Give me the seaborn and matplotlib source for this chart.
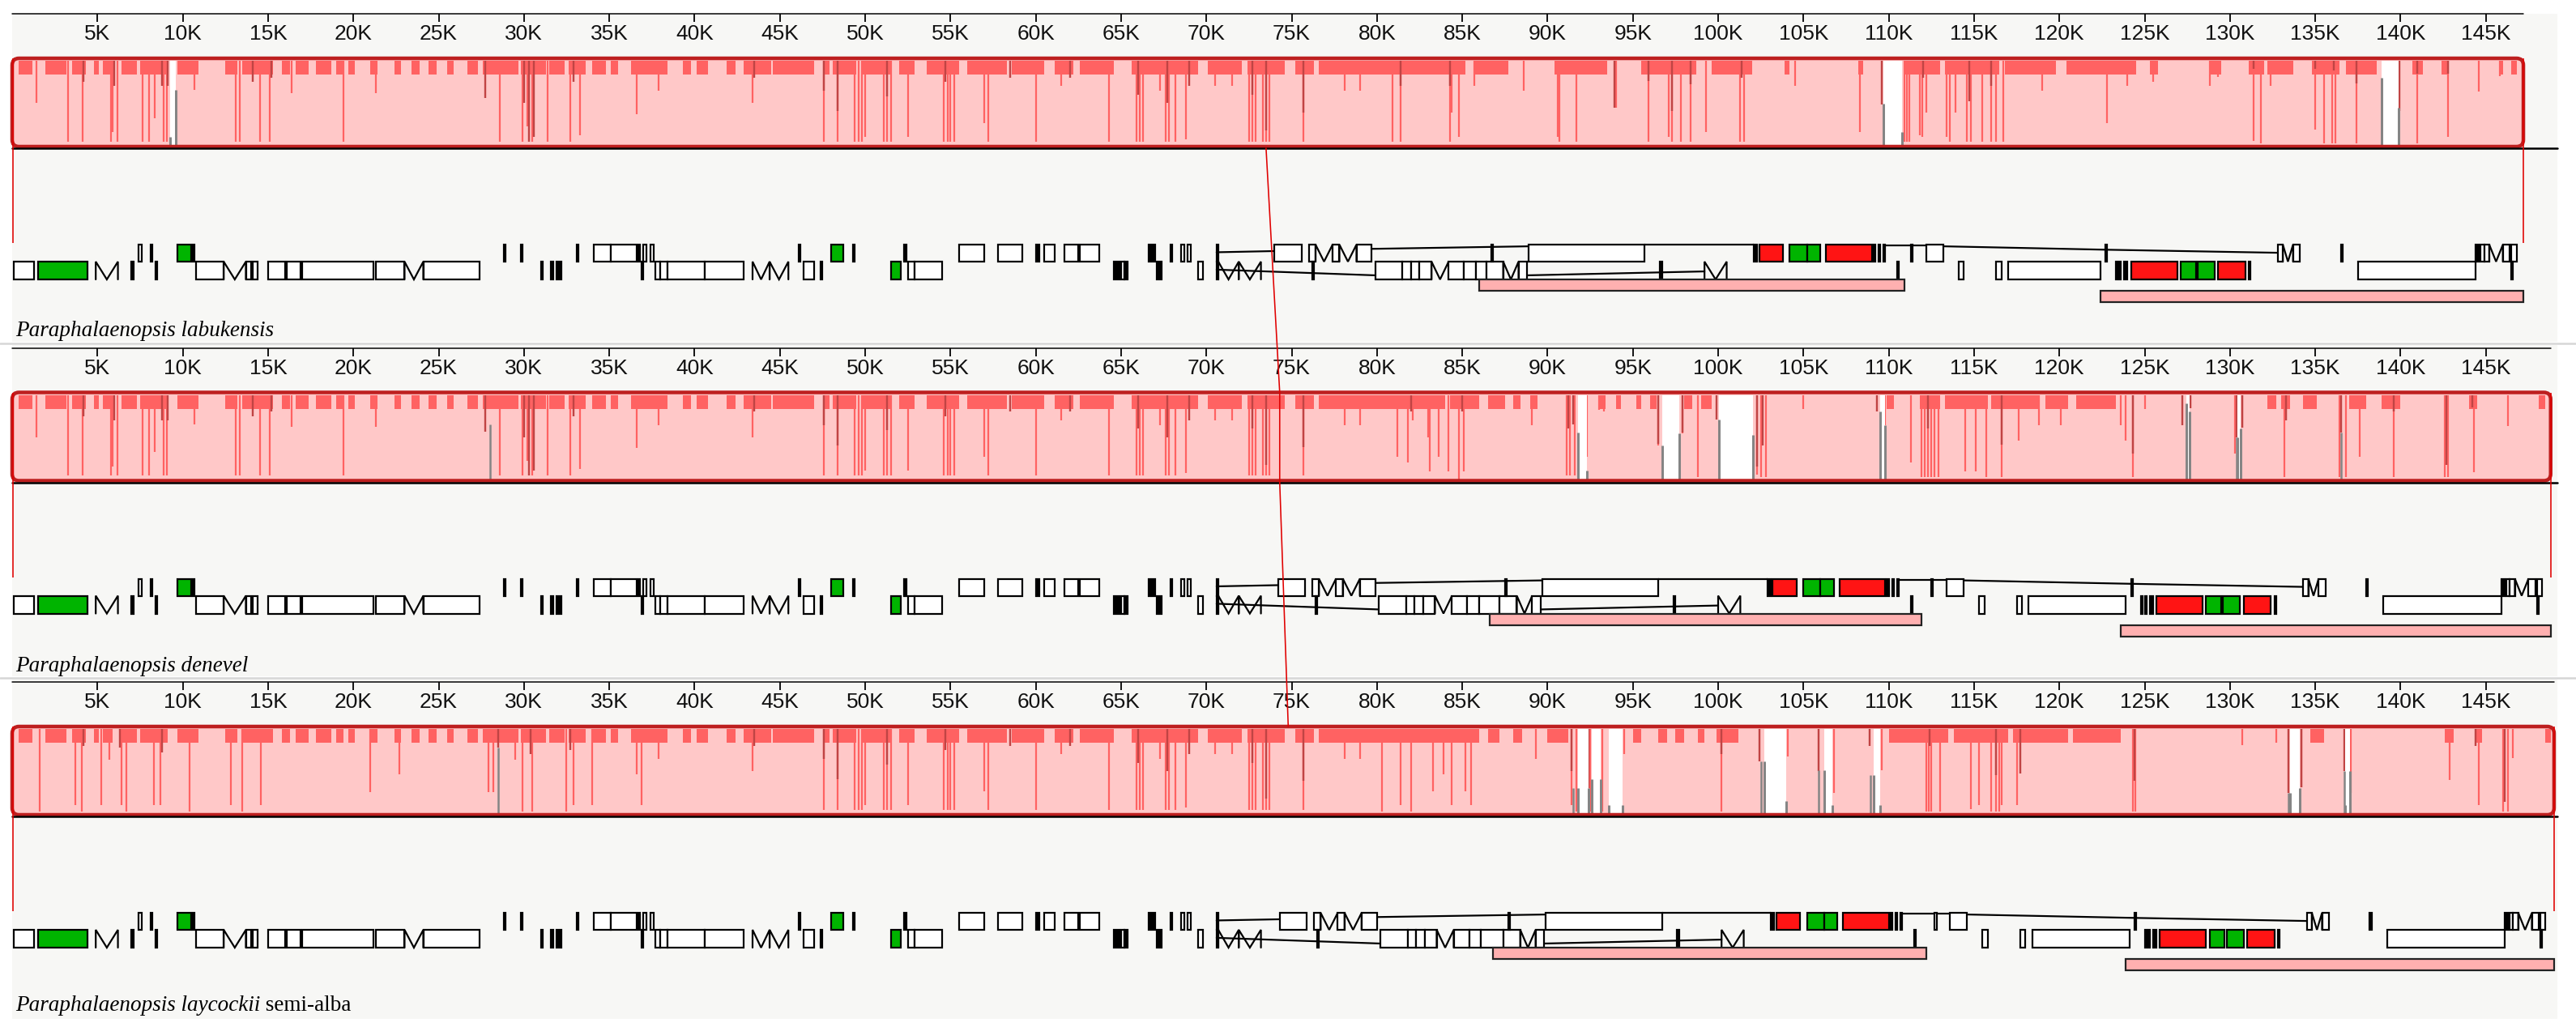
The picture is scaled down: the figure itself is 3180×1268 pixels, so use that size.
import numpy as np
import matplotlib
matplotlib.use("Agg")
import matplotlib.pyplot as plt
from matplotlib.patches import Rectangle, FancyBboxPatch
from matplotlib import font_manager
import seaborn as sns

# ======================= DATA (positions in kb) =======================
GENOME_NAMES = ["Paraphalaenopsis labukensis", "Paraphalaenopsis denevel",
                "Paraphalaenopsis laycockii"]
NAME_SUFFIX = ["", "", " semi-alba"]
GENOME_LENGTH_K = [147.2, 148.8, 149.0]
TICK_STEP_K = 5
LCB_ANCHOR_K = [73.5, 74.3, 74.8]

# similarity-profile dips: (position kb, depth as fraction of block height)
LSC_A_DIPS = [(1.42, .5), (3.28, .96), (4.13, .96), (5.78, .96), (5.9, .85), (6.19, .96),
              (7.65, .96), (8.01, .96), (8.37, .68), (8.86, .96), (9.05, .96), (10.67, .35),
              (13.1, .96), (13.34, .96), (14.55, .96), (15.08, .96), (16.4, .38), (19.4, .96),
              (21.3, .38), (28.6, .96), (29.9, .96), (30.2, .78), (30.5, .96), (31.4, .96),
              (32.7, .96), (33.3, .88), (36.6, .63)]
LSC_A_DARK = [(4.2, .25), (6.0, .3), (8.8, .3), (9.1, .3), (14.1, .25), (15.2, .2), (27.75, .44),
              (30.0, .5), (30.3, .96), (30.6, .9), (32.9, .25)]
LSC_A_BAND = [(0.4, 1.2), (1.95, 3.2), (3.5, 4.3), (4.8, 5.1), (5.3, 5.9), (6.4, 7.3), (7.5, 9.1),
              (9.7, 10.9), (12.5, 13.2), (13.5, 15.3), (15.8, 16.3), (16.6, 17.4), (17.8, 18.7),
              (19.0, 19.4), (19.7, 20.1), (21.0, 21.4), (22.4, 22.8), (23.4, 23.9), (24.4, 24.9),
              (25.5, 25.9), (26.7, 27.3), (27.6, 29.7), (29.8, 31.3), (31.5, 32.4), (32.6, 33.6),
              (34.0, 34.8), (35.1, 35.5), (36.6, 37.3)]
LSC_B_DIPS = [(37.9, .36), (43.4, .5), (47.6, .96), (48.4, .96), (49.4, .96), (49.6, .96),
              (49.8, .96), (50.0, .9), (51.1, .96), (51.3, .96), (51.5, .96), (52.5, .9),
              (54.6, .96), (54.85, .96), (55.0, .96), (55.2, .96), (57.0, .74), (57.2, .96),
              (60.0, .96), (61.5, .3), (64.3, .96), (65.9, .96), (66.1, .96), (66.3, .96),
              (67.3, .36), (67.6, .96), (67.8, .96), (68.2, .96), (68.8, .93), (70.5, .3),
              (71.5, .3), (72.5, .96), (72.7, .96), (72.9, .96), (73.3, .96), (73.5, .96),
              (73.7, .96), (75.7, .96), (78.1, .36), (79.0, .36)]
LSC_B_DARK = [(43.5, .2), (47.6, .36), (48.4, .6), (51.3, .42), (54.7, .25), (58.5, .2), (62.0, .2),
              (66.0, .4), (67.7, .5), (69.0, .3), (72.7, .4), (73.5, .83), (75.7, .62)]
LSC_B_BAND = [(36.3, 36.9), (37.3, 38.4), (39.3, 39.8), (40.1, 40.8), (41.9, 42.4), (42.9, 44.5),
              (44.6, 47.0), (47.6, 47.9), (48.1, 49.5), (49.8, 51.5), (52.0, 52.9), (53.6, 55.5),
              (56.0, 58.3), (58.6, 60.5), (61.1, 62.2), (62.6, 64.6), (65.6, 69.5), (70.1, 72.1),
              (72.4, 74.6), (75.2, 76.3), (76.6, 80.0)]

P1_IR_DIPS = [(80.9, .96), (81.4, .96), (84.3, .96), (84.4, .62), (84.8, .9), (85.7, .3), (88.6, .36),
              (90.6, .9), (90.7, .96), (91.7, .96), (94.0, .56), (95.9, .96), (97.1, .9), (97.3, .96),
              (97.8, .96), (98.4, .96), (99.3, .85), (101.3, .96), (101.5, .96), (104.5, .3),
              (108.3, .85), (110.9, .96), (111.05, .96), (111.2, .96), (111.8, .88), (111.95, .9),
              (112.2, .62), (113.4, .9), (113.6, .96), (113.9, .62), (114.6, .96), (114.8, .96),
              (115.5, .96), (116.0, .96), (116.3, .96), (116.7, .96), (119.0, .36), (122.8, .74),
              (124.0, .3), (125.5, .25), (128.8, .3), (129.3, .19), (131.4, .95), (131.8, .98),
              (132.4, .3), (135.0, .82), (135.5, .98), (136.0, .98), (136.2, .98), (137.4, .98),
              (139.9, .42), (141.0, .98), (142.8, .9), (144.6, .37), (145.8, .18)]
P1_IR_DARK = [(81.4, .3), (84.3, .3), (93.9, .56), (95.9, .24), (97.3, .6), (98.4, .28), (101.4, .2),
              (109.6, .52), (112.0, .2), (114.7, .48), (116.0, .3), (131.4, .1), (135.0, .1),
              (136.1, .12), (137.4, .27), (139.95, .6), (141.0, .15), (142.8, .15)]
P1_IR_BAND = [(80.0, 85.2), (85.7, 87.7), (90.4, 93.5), (95.5, 98.7), (99.6, 102.0), (103.9, 104.2),
              (108.2, 108.5), (110.9, 113.0), (113.3, 116.5), (116.8, 119.8), (120.4, 124.1),
              (124.0, 124.5), (125.3, 125.8), (128.8, 129.5), (131.1, 132.0), (132.2, 133.7),
              (134.8, 136.4), (136.8, 138.6), (140.7, 141.3), (142.4, 142.8), (145.8, 146.0),
              (146.5, 146.8)]
# unaligned gaps: (start, end, grey-edge start left, grey-edge start right)
P1_GAPS = [(9.25, 9.6, .9, .35), (109.7, 110.8, .51, .85), (138.9, 139.9, .2, .56)]
P1_GREY = []

P2_IR_DIPS = [(81.2, .74), (81.8, .8), (82.1, .3), (83.0, .5), (83.1, .91), (83.6, .74), (84.2, .91),
              (84.8, 1.0), (85.1, .91), (89.1, .36), (91.1, .96), (91.3, .96), (91.6, .96), (92.3, .74),
              (93.0, .18), (93.3, .2), (96.5, .6), (97.9, .46), (98.8, .98), (102.3, .95), (102.5, .98),
              (102.8, .98), (105.0, .17), (109.8, .36), (111.3, .8), (111.9, .98), (112.1, .98),
              (112.3, .98), (112.5, .98), (112.7, .98), (112.9, .98), (114.5, .91), (115.1, .91),
              (115.7, .98), (116.6, .98), (117.6, .54), (118.8, .36), (120.1, .36), (123.6, .36),
              (123.9, .54), (124.3, .98), (125.0, .17), (127.7, .16), (130.3, .7), (130.7, .39),
              (133.2, .98), (133.3, .3), (136.4, .98), (136.8, .98), (137.6, .74), (139.6, .98),
              (142.6, .98), (142.8, .98), (144.3, .92), (146.3, .37)]
P2_IR_DARK = [(82.0, .2), (85.0, .2), (91.2, .4), (91.5, .35), (96.5, .58), (97.9, .45), (99.9, .29),
              (102.3, .85), (102.6, .6), (109.3, .2), (112.3, .4), (116.6, .59), (124.3, .7),
              (127.2, .36), (127.7, .16), (130.4, .5), (130.7, .39), (133.3, .3), (136.5, .45),
              (139.6, .2), (142.7, .83), (144.2, .15)]
P2_IR_BAND = [(80.0, 84.0), (84.3, 86.0), (86.5, 87.5), (88.0, 88.4), (89.0, 89.4), (93.0, 93.4),
              (94.0, 94.3), (95.2, 95.5), (96.0, 96.4), (98.0, 98.5), (99.0, 99.6), (109.9, 110.3),
              (111.8, 113.0), (113.3, 115.8), (116.0, 118.8), (119.2, 120.5), (121.0, 123.3),
              (132.2, 132.7), (133.0, 133.5), (134.3, 135.1), (137.0, 138.0), (138.9, 140.0),
              (144.0, 144.5), (148.1, 148.5)]
P2_GAPS = [(91.8, 92.3, .45, .9), (96.7, 97.7, .6, .46), (100.05, 102.05, .29, .48),
           (109.5, 109.8, .2, .36), (127.45, 127.65, .1, .2), (130.45, 130.65, .5, .4)]
P2_GREY = [(28.0, .35), (130.4, .5), (136.5, .45)]

P3_LSC_A_DIPS = [(1.6, .98), (3.7, .9), (4.1, .98), (5.2, .9), (5.7, .37), (6.4, .9), (6.7, .98),
                 (8.3, .9), (8.7, .9), (10.4, .98), (12.8, .9), (13.5, .98), (14.6, .9), (21.0, .75),
                 (22.7, .54), (27.9, .75), (28.2, .75), (29.5, .37), (29.9, .98), (30.5, .98),
                 (32.5, .98), (32.9, .9), (34.0, .9), (36.6, .54), (36.9, .9)]
P3_LSC_A_DARK = [(4.2, .2), (6.3, .22), (8.8, .28), (28.5, .22), (30.4, .3), (32.7, .25)]
P3_IR_DIPS = [(80.3, .98), (81.4, .9), (82.0, .98), (83.3, .74), (83.9, .54), (84.4, .9), (85.2, .74),
              (85.5, .9), (89.3, .36), (91.4, .9), (91.7, .98), (92.5, .98), (93.2, .98), (94.5, .3),
              (100.2, .98), (104.1, .33), (106.8, .76), (109.6, .49), (112.2, .98), (112.35, .98),
              (112.5, .98), (113.0, .98), (114.8, .95), (115.3, .9), (116.0, .98), (116.3, .98),
              (116.5, .98), (116.6, .9), (117.5, .9), (124.3, .98), (124.45, .98), (130.7, .19),
              (132.7, .16), (134.2, .69), (137.1, .76), (142.9, .61), (144.6, .9), (146.0, .98),
              (146.3, .98), (146.6, .35)]
P3_IR_DARK = [(91.4, .5), (92.4, .7), (100.2, .3), (102.4, .38), (105.9, .5), (108.9, .2), (112.4, .2),
              (116.3, .55), (117.7, .53), (124.4, .62), (133.45, .76), (134.2, .69), (136.7, .5),
              (144.4, .2), (146.1, .87)]
P3_IR_BAND = [(80.0, 86.0), (86.5, 87.2), (88.0, 88.5), (90.0, 91.2), (95.0, 95.5), (96.5, 97.0),
              (97.5, 98.0), (98.8, 99.2), (99.9, 101.2), (110.0, 113.5), (113.8, 117.0),
              (117.3, 120.5), (120.8, 123.6), (134.7, 135.5), (142.6, 143.1), (144.4, 144.8),
              (148.5, 148.9)]
P3_GAPS = [(91.8, 92.4, .7, .7), (92.6, 93.1, .6, .6), (93.6, 94.4, .9, .9), (102.7, 104.0, .38, .86),
           (106.2, 106.7, .49, .9), (109.1, 109.5, .55, .9), (133.5, 134.1, .76, .7),
           (136.75, 137.05, .9, .5)]
P3_GREY = [(28.5, .22), (91.5, .7), (102.5, .38), (105.9, .49), (108.95, .55), (133.45, .76),
           (136.7, .5)]

PANEL_DIPS = [LSC_A_DIPS + LSC_B_DIPS + P1_IR_DIPS, LSC_A_DIPS + LSC_B_DIPS + P2_IR_DIPS,
              P3_LSC_A_DIPS + LSC_B_DIPS + P3_IR_DIPS]
PANEL_DARK = [LSC_A_DARK + LSC_B_DARK + P1_IR_DARK, LSC_A_DARK + LSC_B_DARK + P2_IR_DARK,
              P3_LSC_A_DARK + LSC_B_DARK + P3_IR_DARK]
PANEL_BAND = [LSC_A_BAND + LSC_B_BAND + P1_IR_BAND, LSC_A_BAND + LSC_B_BAND + P2_IR_BAND,
              LSC_A_BAND + LSC_B_BAND + P3_IR_BAND]
PANEL_GAPS = [P1_GAPS, P2_GAPS, P3_GAPS]
PANEL_GREY = [P1_GREY, P2_GREY, P3_GREY]

# gene features of the first genome: (start, end, strand U/L, type)
GENES = [
    (0.1, 1.3, "L", "w"), (1.5, 4.4, "L", "g"), (4.9, 6.2, "L", "m"), (7.0, 7.1, "L", "k"),
    (8.4, 8.5, "L", "k"), (7.4, 7.6, "U", "w"), (8.1, 8.2, "U", "k"), (9.7, 10.5, "U", "g"),
    (10.6, 10.7, "U", "k"), (10.8, 12.4, "L", "w"), (12.4, 13.7, "L", "m"), (13.7, 14.0, "L", "w"),
    (14.1, 14.4, "L", "w"), (15.0, 16.0, "L", "w"), (16.1, 16.9, "L", "w"), (17.0, 21.2, "L", "w"),
    (21.3, 23.0, "L", "w"), (23.0, 24.1, "L", "m"), (24.1, 27.4, "L", "w"), (28.8, 28.9, "U", "k"),
    (29.8, 29.9, "U", "k"), (31.0, 31.1, "L", "k"), (31.6, 31.7, "L", "k"), (31.9, 32.2, "L", "k"),
    (33.1, 33.2, "U", "k"), (34.1, 35.1, "U", "w"), (35.1, 36.6, "U", "w"), (36.7, 36.8, "U", "w"),
    (36.9, 37.0, "L", "k"), (37.0, 37.2, "U", "w"), (37.4, 37.6, "U", "w"), (37.7, 38.0, "L", "w"),
    (38.0, 38.4, "L", "w"), (38.4, 40.6, "L", "w"), (40.6, 42.9, "L", "w"), (43.4, 44.4, "L", "m"),
    (44.4, 45.5, "L", "m"), (46.1, 46.2, "U", "k"), (46.4, 47.0, "L", "w"), (47.4, 47.5, "L", "k"),
    (48.0, 48.7, "U", "g"), (49.3, 49.4, "U", "k"), (51.5, 52.1, "L", "g"), (52.3, 52.4, "U", "k"),
    (52.5, 52.9, "L", "w"), (52.9, 54.5, "L", "w"), (55.5, 57.0, "U", "w"), (57.8, 59.2, "U", "w"),
    (60.0, 60.2, "U", "k"), (60.5, 61.1, "U", "w"), (61.7, 62.5, "U", "w"), (62.6, 63.7, "U", "w"),
    (64.6, 64.9, "L", "k"), (65.0, 65.2, "L", "w"), (65.2, 65.4, "L", "k"), (66.6, 66.7, "U", "k"),
    (66.8, 67.0, "U", "k"), (67.1, 67.2, "L", "k"), (67.3, 67.4, "L", "k"), (67.9, 68.0, "U", "k"),
    (68.5, 68.7, "U", "w"), (68.9, 69.1, "U", "w"), (69.5, 69.8, "L", "w"), (70.6, 70.7, "U", "k"),
    (70.6, 70.7, "L", "k"), (70.7, 71.9, "L", "m"), (71.9, 73.2, "L", "m"), (74.0, 75.6, "U", "w"),
    (76.0, 76.4, "U", "w"), (76.4, 77.4, "U", "m"), (77.4, 77.8, "U", "w"), (77.8, 78.8, "U", "m"),
    (78.8, 79.7, "U", "w"), (76.2, 76.3, "L", "k"), (79.9, 81.5, "L", "w"), (81.5, 82.0, "L", "w"),
    (82.0, 82.5, "L", "w"), (82.5, 83.2, "L", "w"), (83.2, 84.2, "L", "m"), (84.2, 85.1, "L", "w"),
    (85.1, 85.8, "L", "w"), (85.8, 86.4, "L", "w"), (86.4, 87.4, "L", "w"), (87.4, 88.3, "L", "m"),
    (88.3, 88.8, "L", "w"), (86.7, 86.8, "U", "k"), (88.9, 95.7, "U", "w"), (96.6, 96.7, "L", "k"),
    (99.2, 100.5, "L", "m"), (102.1, 102.3, "U", "k"), (102.4, 103.8, "U", "r"),
    (104.2, 105.2, "U", "g"), (105.2, 106.0, "U", "g"), (106.3, 109.0, "U", "r"),
    (109.1, 109.2, "U", "k"), (109.4, 109.5, "U", "k"), (109.7, 109.8, "U", "k"),
    (110.5, 110.6, "L", "k"), (111.3, 111.4, "U", "w"), (112.2, 113.2, "U", "w"),
    (114.1, 114.4, "L", "w"), (116.3, 116.6, "L", "w"), (117.0, 122.4, "L", "w"),
    (122.7, 122.8, "U", "k"), (123.3, 123.4, "L", "k"), (123.5, 123.6, "L", "k"),
    (123.8, 124.0, "L", "k"), (124.2, 126.9, "L", "r"), (127.1, 128.0, "L", "g"),
    (128.1, 129.1, "L", "g"), (129.3, 130.9, "L", "r"), (131.1, 131.2, "L", "k"),
    (132.8, 133.1, "U", "w"), (133.1, 133.7, "U", "m"), (133.7, 134.1, "U", "w"),
    (136.5, 136.6, "U", "k"), (137.5, 144.4, "L", "w"), (144.4, 144.6, "U", "k"),
    (144.7, 144.9, "U", "w"), (144.9, 145.2, "U", "w"), (145.2, 146.0, "U", "m"),
    (146.0, 146.4, "U", "w"), (146.5, 146.8, "U", "w"), (146.5, 146.6, "L", "k"),
]
# connecting lines between exons: (strand, x0, level0, x1, level1) level = fraction of row height
CONNECTORS = [("U", 70.6, .45, 74.0, .38), ("U", 79.7, .25, 88.9, .1), ("U", 95.7, .02, 102.1, .02),
              ("U", 109.8, .05, 112.2, .05), ("U", 113.2, .1, 122.7, .3), ("U", 122.7, .3, 132.8, .48),
              ("L", 70.6, .45, 79.9, .77), ("L", 88.8, .77, 99.2, .55)]
# region starts (genome 1 coordinates) and per-genome shift of features in each region
SECTION_START_K = [0.0, 74.0, 86.0, 111.0, 122.4]
SECTION_SHIFT_K = [[0, 0, 0, 0, 0], [0, 0.2, 0.8, 1.2, 1.5], [0, 0.3, 1.0, 1.4, 1.7]]
# pink inverted-repeat bars per genome
PINK_BARS = [[(86.0, 110.9), (122.4, 147.2)], [(86.6, 111.9), (123.6, 148.8)],
             [(86.8, 112.2), (123.9, 149.0)]]

# ======================= LAYOUT / STYLE =======================
W_PX, H_PX = 3180, 1268
PX_PER_K = 21.06
X0_PX = 15
PANEL_STEP = 412.5
RULER_Y, TICK_LEN, TICKLABEL_Y = 17, 10, 42
BOX_TOP, BOX_BOT = 72, 181
IN_TOP, IN_BOT, BAND_BOT = 75, 179, 92
GLINE_Y = 183
EDGE_BOT = 300
ROWS = {"U": (302, 323), "L": (323, 345)}
PINK_ROWS = [(345, 359), (359, 373)]
LABEL_BASE = [415, 829, 1248]
BG_Y = [(17, 422), (426, 835), (839, 1258)]
BG_RIGHT_K = (3157 - X0_PX) / PX_PER_K

C_BG = "#f7f7f5"
C_PINK = "#ffc8c8"
C_RED = "#ff6262"
C_DARK = "#c04444"
C_BORDER = "#bd1f1f"
C_GREY = "#858585"
C_EDGE = "#e00000"
GENE_FC = {"w": "white", "g": "#00b400", "r": "#ff1414", "k": "black"}
C_PINKBAR = "#ffb0b0"


def px(v):
    return v * 72.0 / 100.0


sns.set_theme(style="white")
avail = {f.name for f in font_manager.fontManager.ttflist}
tick_font = "Liberation Sans Narrow" if "Liberation Sans Narrow" in avail else "Liberation Sans"
plt.rcParams["font.family"] = ["Liberation Sans", "DejaVu Sans"]

fig = plt.figure(figsize=(W_PX / 100, H_PX / 100), dpi=100, facecolor="white")
ax = fig.add_axes([0, 0, 1, 1])
ax.set_xlim(-X0_PX / PX_PER_K, (W_PX - X0_PX) / PX_PER_K)
ax.set_ylim(H_PX, 0)
ax.set_facecolor("white")
sns.despine(ax=ax, left=True, bottom=True)
ax.set_xticks([])
ax.set_yticks([])


def shift(k, x):
    i = np.searchsorted(SECTION_START_K, x, side="right") - 1
    return x + SECTION_SHIFT_K[k][max(i, 0)]


H_IN = IN_BOT - IN_TOP

for k in range(3):
    oy = k * PANEL_STEP
    L = GENOME_LENGTH_K[k]
    ax.add_patch(Rectangle((0, BG_Y[k][0]), BG_RIGHT_K, BG_Y[k][1] - BG_Y[k][0],
                           fc=C_BG, ec="none", zorder=0))
    if k > 0:
        ax.plot(ax.get_xlim(), [BG_Y[k][0] - 2] * 2, color="#d6d6d6", lw=px(2.5), zorder=0.5)

    # ruler
    ax.plot([0, L], [oy + RULER_Y] * 2, color="black", lw=px(1.5), zorder=2)
    ticks = np.arange(TICK_STEP_K, L, TICK_STEP_K)
    ax.vlines(ticks, oy + RULER_Y, oy + RULER_Y + TICK_LEN, color="black", lw=px(1.8), zorder=2)
    for t in ticks:
        ax.text(t, oy + TICKLABEL_Y, f"{int(round(t))}K", ha="center", va="center",
                fontsize=19, family=tick_font, color="#111111", zorder=3)

    # block fill
    ax.add_patch(FancyBboxPatch((0, oy + BOX_TOP), L, BOX_BOT - BOX_TOP,
                                boxstyle="round,pad=0,rounding_size=0.4",
                                mutation_aspect=PX_PER_K, fc=C_PINK, ec="none", zorder=1))
    for s, e in PANEL_BAND[k]:
        e2 = min(e, L - 0.2)
        if e2 > s:
            ax.add_patch(Rectangle((s, oy + IN_TOP), e2 - s, BAND_BOT - IN_TOP,
                                   fc=C_RED, ec="none", zorder=2))
    xs = np.array([d[0] for d in PANEL_DIPS[k]])
    ds = np.array([d[1] for d in PANEL_DIPS[k]])
    ax.vlines(xs, oy + IN_TOP, oy + IN_TOP + ds * H_IN, color=C_RED, lw=px(2.2), zorder=3)
    xs = np.array([d[0] for d in PANEL_DARK[k]])
    ds = np.array([d[1] for d in PANEL_DARK[k]])
    ax.vlines(xs, oy + IN_TOP, oy + IN_TOP + ds * H_IN, color=C_DARK, lw=px(2.4), zorder=4)
    for s, e, fl, fr in PANEL_GAPS[k]:
        ax.add_patch(Rectangle((s, oy + IN_TOP), e - s, H_IN, fc="white", ec="none", zorder=5))
        ax.vlines([s], oy + IN_TOP + fl * H_IN, oy + IN_BOT, color=C_GREY, lw=px(3), zorder=6)
        ax.vlines([e], oy + IN_TOP + fr * H_IN, oy + IN_BOT, color=C_GREY, lw=px(3), zorder=6)
    for g, f in PANEL_GREY[k]:
        ax.vlines([g], oy + IN_TOP + f * H_IN, oy + IN_BOT, color=C_GREY, lw=px(2.5), zorder=6)
    ax.add_patch(FancyBboxPatch((0, oy + BOX_TOP), L, BOX_BOT - BOX_TOP,
                                boxstyle="round,pad=0,rounding_size=0.4",
                                mutation_aspect=PX_PER_K, fc="none", ec=C_BORDER,
                                lw=px(4.5), zorder=7))
    # genome centre line
    ax.plot([0, BG_RIGHT_K], [oy + GLINE_Y] * 2, color="black", lw=px(2.5), zorder=8)
    # block edge lines
    ax.vlines([0.05, L], oy + BOX_TOP, oy + EDGE_BOT, color=C_EDGE, lw=px(1.6), zorder=9)

    # genes
    for s, e, strand, kind in GENES:
        s2, e2 = shift(k, s), shift(k, e)
        y0, y1 = ROWS[strand]
        if kind == "m":
            mid = (s2 + e2) / 2
            ax.plot([s2, s2, mid, e2, e2], [oy + y1, oy + y0, oy + y1, oy + y0, oy + y1],
                    color="black", lw=px(2.2), zorder=10, solid_joinstyle="miter")
        else:
            ax.add_patch(Rectangle((s2, oy + y0), e2 - s2, y1 - y0, fc=GENE_FC[kind],
                                   ec="black", lw=px(2.2), zorder=10))
    for strand, x0, f0, x1, f1 in CONNECTORS:
        y0, y1 = ROWS[strand]
        ax.plot([shift(k, x0), shift(k, x1)],
                [oy + y0 + f0 * (y1 - y0), oy + y0 + f1 * (y1 - y0)],
                color="black", lw=px(2.2), zorder=9.5)
    for (s, e), (y0, y1) in zip(PINK_BARS[k], PINK_ROWS):
        ax.add_patch(Rectangle((s, oy + y0), e - s, y1 - y0, fc=C_PINKBAR, ec="#222222",
                               lw=px(2.2), zorder=10))

    # species label
    t = ax.text(4 / PX_PER_K, LABEL_BASE[k], GENOME_NAMES[k], ha="left", va="baseline",
                fontsize=19.5, family=["Liberation Serif", "DejaVu Serif"], style="italic",
                color="black", zorder=11)
    if NAME_SUFFIX[k]:
        fig.canvas.draw()
        bb = t.get_window_extent(fig.canvas.get_renderer())
        xe = ax.transData.inverted().transform((bb.x1, bb.y0))[0]
        ax.text(xe, LABEL_BASE[k], NAME_SUFFIX[k], ha="left", va="baseline", fontsize=19.5,
                family=["Liberation Serif", "DejaVu Serif"], color="black", zorder=11)

# LCB connecting line across genomes
a = LCB_ANCHOR_K
ax.plot([a[0], a[1], a[1], a[2]],
        [GLINE_Y, PANEL_STEP + BOX_TOP, PANEL_STEP + BOX_BOT + 2, 2 * PANEL_STEP + BOX_TOP],
        color=C_EDGE, lw=px(1.6), zorder=12)

fig.savefig("out.png", dpi=100, facecolor="white")
